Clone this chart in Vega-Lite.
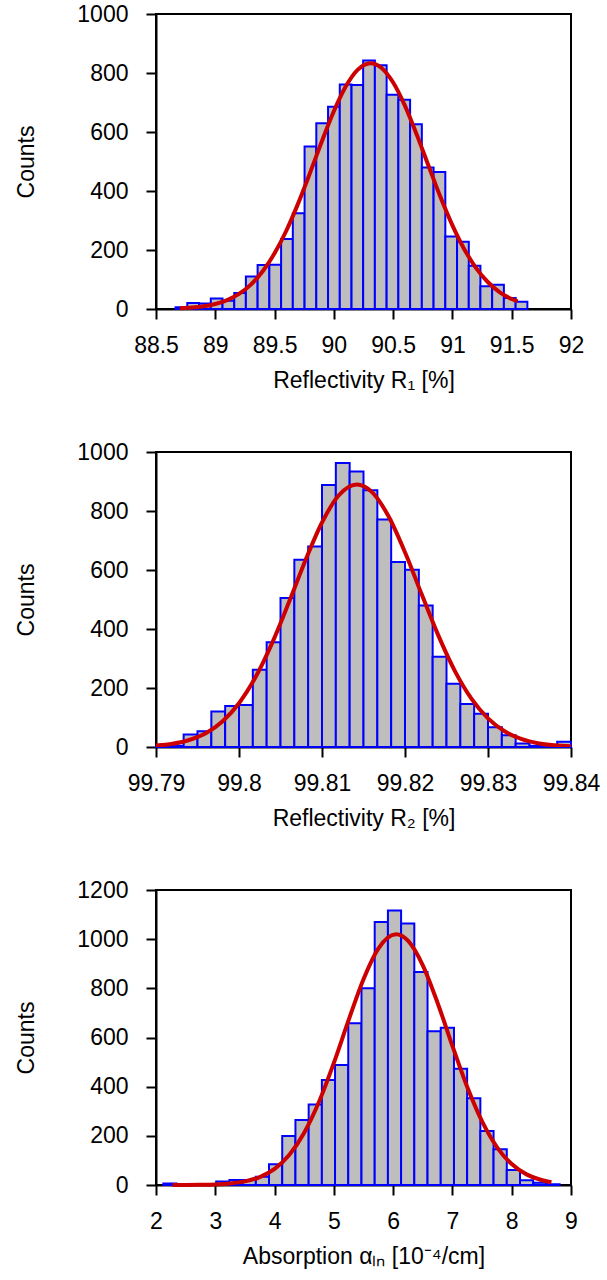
{
  "$schema": "https://vega.github.io/schema/vega-lite/v6.json",
  "background": "white",
  "padding": {"left": 14, "top": 2, "right": 5, "bottom": 5},
  "vconcat": [
    {
      "width": 415, "height": 295,
      "layer": [
        {
          "data": {"name": "h1"},
          "mark": {"type": "rect", "fill": "#bebebe", "stroke": "#0000ff", "strokeWidth": 2},
          "encoding": {
            "x": {"field": "x0", "type": "quantitative", "scale": {"domain": [88.5, 92], "nice": false, "zero": false},
                  "axis": {"title": "Reflectivity R₁ [%]", "values": [88.5, 89, 89.5, 90, 90.5, 91, 91.5, 92], "format": "~g"}},
            "x2": {"field": "x1"},
            "y": {"field": "count", "type": "quantitative", "scale": {"domain": [0, 1000], "nice": false},
                  "axis": {"title": "Counts", "values": [0, 200, 400, 600, 800, 1000], "format": "d"}},
            "y2": {"datum": 0}
          }
        },
        {
          "data": {"name": "c1"},
          "mark": {"type": "line", "color": "#cc0000", "strokeWidth": 4, "interpolate": "monotone"},
          "encoding": {
            "x": {"field": "x", "type": "quantitative"},
            "y": {"field": "y", "type": "quantitative"}
          }
        }
      ]
    },
    {
      "width": 415, "height": 295,
      "layer": [
        {
          "data": {"name": "h2"},
          "mark": {"type": "rect", "fill": "#bebebe", "stroke": "#0000ff", "strokeWidth": 2},
          "encoding": {
            "x": {"field": "x0", "type": "quantitative", "scale": {"domain": [99.79, 99.84], "nice": false, "zero": false},
                  "axis": {"title": "Reflectivity R₂ [%]", "values": [99.79, 99.8, 99.81, 99.82, 99.83, 99.84], "format": "~g"}},
            "x2": {"field": "x1"},
            "y": {"field": "count", "type": "quantitative", "scale": {"domain": [0, 1000], "nice": false},
                  "axis": {"title": "Counts", "values": [0, 200, 400, 600, 800, 1000], "format": "d"}},
            "y2": {"datum": 0}
          }
        },
        {
          "data": {"name": "c2"},
          "mark": {"type": "line", "color": "#cc0000", "strokeWidth": 4, "interpolate": "monotone", "clip": true},
          "encoding": {
            "x": {"field": "x", "type": "quantitative"},
            "y": {"field": "y", "type": "quantitative"}
          }
        }
      ]
    },
    {
      "width": 415, "height": 295,
      "layer": [
        {
          "data": {"name": "h3"},
          "mark": {"type": "rect", "fill": "#bebebe", "stroke": "#0000ff", "strokeWidth": 2},
          "encoding": {
            "x": {"field": "x0", "type": "quantitative", "scale": {"domain": [2, 9], "nice": false, "zero": false},
                  "axis": {"title": "Absorption αₗₙ [10⁻⁴/cm]", "values": [2, 3, 4, 5, 6, 7, 8, 9], "format": "d"}},
            "x2": {"field": "x1"},
            "y": {"field": "count", "type": "quantitative", "scale": {"domain": [0, 1200], "nice": false},
                  "axis": {"title": "Counts", "values": [0, 200, 400, 600, 800, 1000, 1200], "format": "d"}},
            "y2": {"datum": 0}
          }
        },
        {
          "data": {"name": "c3"},
          "mark": {"type": "line", "color": "#cc0000", "strokeWidth": 4, "interpolate": "monotone"},
          "encoding": {
            "x": {"field": "x", "type": "quantitative"},
            "y": {"field": "y", "type": "quantitative"}
          }
        }
      ]
    }
  ],
  "spacing": 47,
  "datasets": {
    "h1": [
      {"x0": 88.665, "x1": 88.764, "count": 6},
      {"x0": 88.764, "x1": 88.863, "count": 20},
      {"x0": 88.863, "x1": 88.962, "count": 19},
      {"x0": 88.962, "x1": 89.061, "count": 36},
      {"x0": 89.061, "x1": 89.160, "count": 28},
      {"x0": 89.160, "x1": 89.258, "count": 54},
      {"x0": 89.258, "x1": 89.357, "count": 110},
      {"x0": 89.357, "x1": 89.456, "count": 149},
      {"x0": 89.456, "x1": 89.555, "count": 150},
      {"x0": 89.555, "x1": 89.654, "count": 237},
      {"x0": 89.654, "x1": 89.753, "count": 325},
      {"x0": 89.753, "x1": 89.852, "count": 551},
      {"x0": 89.852, "x1": 89.951, "count": 630},
      {"x0": 89.951, "x1": 90.050, "count": 686},
      {"x0": 90.050, "x1": 90.149, "count": 761},
      {"x0": 90.149, "x1": 90.247, "count": 759},
      {"x0": 90.247, "x1": 90.346, "count": 842},
      {"x0": 90.346, "x1": 90.445, "count": 826},
      {"x0": 90.445, "x1": 90.544, "count": 726},
      {"x0": 90.544, "x1": 90.643, "count": 709},
      {"x0": 90.643, "x1": 90.742, "count": 626},
      {"x0": 90.742, "x1": 90.841, "count": 480},
      {"x0": 90.841, "x1": 90.940, "count": 464},
      {"x0": 90.940, "x1": 91.039, "count": 246},
      {"x0": 91.039, "x1": 91.138, "count": 228},
      {"x0": 91.138, "x1": 91.236, "count": 147},
      {"x0": 91.236, "x1": 91.335, "count": 77},
      {"x0": 91.335, "x1": 91.434, "count": 82},
      {"x0": 91.434, "x1": 91.533, "count": 37},
      {"x0": 91.533, "x1": 91.632, "count": 25}
    ],
    "c1": [
      {"x": 88.70, "y": 2.4}, {"x": 88.80, "y": 4.8}, {"x": 88.90, "y": 9.3}, {"x": 89.00, "y": 17.1},
      {"x": 89.10, "y": 30.3}, {"x": 89.20, "y": 51.2}, {"x": 89.30, "y": 82.8}, {"x": 89.40, "y": 127.9},
      {"x": 89.50, "y": 188.7}, {"x": 89.60, "y": 266.1}, {"x": 89.70, "y": 358.9}, {"x": 89.80, "y": 462.3},
      {"x": 89.90, "y": 569.4}, {"x": 90.00, "y": 670.2}, {"x": 90.10, "y": 753.9}, {"x": 90.20, "y": 810.5},
      {"x": 90.31, "y": 833}, {"x": 90.40, "y": 817.8}, {"x": 90.50, "y": 767.6}, {"x": 90.60, "y": 688.6},
      {"x": 90.70, "y": 590.3}, {"x": 90.80, "y": 483.7}, {"x": 90.90, "y": 378.8}, {"x": 91.00, "y": 283.6},
      {"x": 91.10, "y": 202.8}, {"x": 91.20, "y": 138.7}, {"x": 91.30, "y": 90.6}, {"x": 91.40, "y": 56.6},
      {"x": 91.50, "y": 33.8}, {"x": 91.55, "y": 25.6}
    ],
    "h2": [
      {"x0": 99.790000, "x1": 99.791667, "count": 1},
      {"x0": 99.791667, "x1": 99.793333, "count": 4},
      {"x0": 99.793333, "x1": 99.795000, "count": 42},
      {"x0": 99.795000, "x1": 99.796667, "count": 53},
      {"x0": 99.796667, "x1": 99.798333, "count": 120},
      {"x0": 99.798333, "x1": 99.800000, "count": 139},
      {"x0": 99.800000, "x1": 99.801667, "count": 142},
      {"x0": 99.801667, "x1": 99.803333, "count": 262},
      {"x0": 99.803333, "x1": 99.805000, "count": 355},
      {"x0": 99.805000, "x1": 99.806667, "count": 505},
      {"x0": 99.806667, "x1": 99.808333, "count": 635},
      {"x0": 99.808333, "x1": 99.810000, "count": 680},
      {"x0": 99.810000, "x1": 99.811667, "count": 888},
      {"x0": 99.811667, "x1": 99.813333, "count": 963},
      {"x0": 99.813333, "x1": 99.815000, "count": 934},
      {"x0": 99.815000, "x1": 99.816667, "count": 870},
      {"x0": 99.816667, "x1": 99.818333, "count": 771},
      {"x0": 99.818333, "x1": 99.820000, "count": 627},
      {"x0": 99.820000, "x1": 99.821667, "count": 601},
      {"x0": 99.821667, "x1": 99.823333, "count": 480},
      {"x0": 99.823333, "x1": 99.825000, "count": 306},
      {"x0": 99.825000, "x1": 99.826667, "count": 214},
      {"x0": 99.826667, "x1": 99.828333, "count": 146},
      {"x0": 99.828333, "x1": 99.830000, "count": 113},
      {"x0": 99.830000, "x1": 99.831667, "count": 67},
      {"x0": 99.831667, "x1": 99.833333, "count": 40},
      {"x0": 99.833333, "x1": 99.835000, "count": 12},
      {"x0": 99.835000, "x1": 99.836667, "count": 4},
      {"x0": 99.836667, "x1": 99.838333, "count": 2},
      {"x0": 99.838333, "x1": 99.840000, "count": 18}
    ],
    "c2": [
      {"x": 99.790, "y": 4.9}, {"x": 99.792, "y": 11.1}, {"x": 99.794, "y": 23.7}, {"x": 99.796, "y": 46.9},
      {"x": 99.798, "y": 86.4}, {"x": 99.800, "y": 148.3}, {"x": 99.802, "y": 237.0}, {"x": 99.804, "y": 353.0},
      {"x": 99.806, "y": 489.6}, {"x": 99.808, "y": 632.4}, {"x": 99.810, "y": 760.9}, {"x": 99.812, "y": 852.5},
      {"x": 99.8142, "y": 890}, {"x": 99.816, "y": 864.7}, {"x": 99.818, "y": 782.8}, {"x": 99.820, "y": 660.0},
      {"x": 99.822, "y": 518.3}, {"x": 99.824, "y": 379.1}, {"x": 99.826, "y": 258.1}, {"x": 99.828, "y": 163.8},
      {"x": 99.830, "y": 96.8}, {"x": 99.832, "y": 53.2}, {"x": 99.834, "y": 27.3}, {"x": 99.836, "y": 13.0},
      {"x": 99.838, "y": 5.8}, {"x": 99.840, "y": 2.4}
    ],
    "h3": [
      {"x0": 2.124, "x1": 2.347, "count": 6},
      {"x0": 2.347, "x1": 2.570, "count": 2},
      {"x0": 2.570, "x1": 2.792, "count": 1},
      {"x0": 2.792, "x1": 3.015, "count": 3},
      {"x0": 3.015, "x1": 3.238, "count": 14},
      {"x0": 3.238, "x1": 3.461, "count": 20},
      {"x0": 3.461, "x1": 3.684, "count": 20},
      {"x0": 3.684, "x1": 3.906, "count": 34},
      {"x0": 3.906, "x1": 4.129, "count": 84},
      {"x0": 4.129, "x1": 4.352, "count": 199},
      {"x0": 4.352, "x1": 4.575, "count": 264},
      {"x0": 4.575, "x1": 4.798, "count": 327},
      {"x0": 4.798, "x1": 5.020, "count": 427},
      {"x0": 5.020, "x1": 5.243, "count": 488},
      {"x0": 5.243, "x1": 5.466, "count": 658},
      {"x0": 5.466, "x1": 5.689, "count": 800},
      {"x0": 5.689, "x1": 5.912, "count": 1070},
      {"x0": 5.912, "x1": 6.134, "count": 1117},
      {"x0": 6.134, "x1": 6.357, "count": 1064},
      {"x0": 6.357, "x1": 6.580, "count": 866},
      {"x0": 6.580, "x1": 6.803, "count": 625},
      {"x0": 6.803, "x1": 7.026, "count": 640},
      {"x0": 7.026, "x1": 7.248, "count": 473},
      {"x0": 7.248, "x1": 7.471, "count": 353},
      {"x0": 7.471, "x1": 7.694, "count": 220},
      {"x0": 7.694, "x1": 7.917, "count": 145},
      {"x0": 7.917, "x1": 8.140, "count": 61},
      {"x0": 8.140, "x1": 8.362, "count": 19},
      {"x0": 8.362, "x1": 8.585, "count": 9},
      {"x0": 8.585, "x1": 8.808, "count": 3}
    ],
    "c3": [
      {"x": 2.28, "y": 0.1}, {"x": 2.5, "y": 0.3}, {"x": 2.75, "y": 0.8}, {"x": 3.0, "y": 2.3},
      {"x": 3.25, "y": 6.1}, {"x": 3.5, "y": 14.6}, {"x": 3.75, "y": 32.2}, {"x": 4.0, "y": 65.6},
      {"x": 4.25, "y": 122.9}, {"x": 4.5, "y": 212.5}, {"x": 4.75, "y": 338.3}, {"x": 5.0, "y": 496.5},
      {"x": 5.25, "y": 671.6}, {"x": 5.5, "y": 837.1}, {"x": 5.75, "y": 961.8}, {"x": 6.05, "y": 1020},
      {"x": 6.25, "y": 993.7}, {"x": 6.5, "y": 893.7}, {"x": 6.75, "y": 740.6}, {"x": 7.0, "y": 565.8},
      {"x": 7.25, "y": 398.3}, {"x": 7.5, "y": 258.4}, {"x": 7.75, "y": 154.5}, {"x": 8.0, "y": 85.1},
      {"x": 8.25, "y": 43.2}, {"x": 8.5, "y": 20.2}, {"x": 8.67, "y": 11.5}
    ]
  },
  "config": {
    "view": {"stroke": "#000000", "strokeWidth": 2},
    "axis": {
      "domainColor": "#000000", "domainWidth": 2,
      "tickColor": "#000000", "tickWidth": 2, "tickSize": 10,
      "labelColor": "#000000", "labelFont": "Liberation Sans", "labelFontSize": 23,
      "titleColor": "#000000", "titleFont": "Liberation Sans", "titleFontSize": 23, "titleFontWeight": "normal",
      "grid": false, "labelOverlap": false, "labelFlush": false, "labelBound": false
    },
    "axisX": {"labelPadding": 15, "titlePadding": 12},
    "axisY": {"labelPadding": 18, "titlePadding": 38}
  }
}
